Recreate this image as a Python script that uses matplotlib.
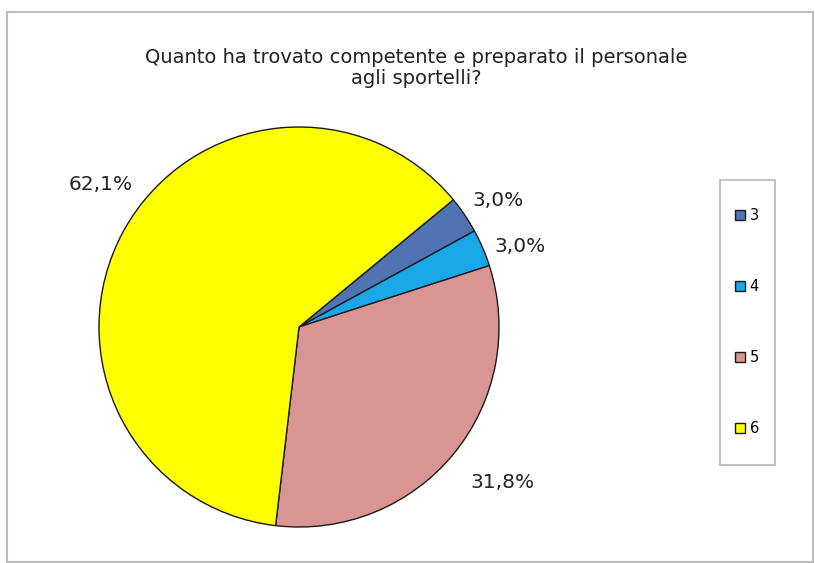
import matplotlib.pyplot as plt
from matplotlib.patches import Rectangle

# Valutazione della competenza del personale agli sportelli
categorie = ['3', '4', '5', '6']
percentuali = [3.0, 3.0, 31.8, 62.1]
colori = ['#4f73b3', '#1aa7e8', '#d99594', '#ffff00']

W, H = 815, 563
fig = plt.figure(figsize=(W / 100, H / 100), dpi=100)
ax = fig.add_axes([0, 0, 1, 1])

# coordinate in pixel, y dal basso
cx, cy, r = 299, H - 327, 200
wedges, _ = ax.pie(percentuali, colors=colori, startangle=39.5, counterclock=False,
                   center=(cx, cy), radius=r,
                   wedgeprops=dict(edgecolor='#1a1a1a', linewidth=1))
ax.set_xlim(0, W)
ax.set_ylim(0, H)
ax.set_aspect('equal')
ax.axis('off')

# etichette percentuali (posizioni in pixel)
pos_etichette = [(498, 201), (520, 246), (503, 483), (101, 185)]
for p, (x, y) in zip(percentuali, pos_etichette):
    ax.text(x, H - y, f'{p:.1f}%'.replace('.', ','), fontsize=14.5,
            color='#222222', ha='center', va='center')

fig.text(416 / W, 1 - 68 / H,
         'Quanto ha trovato competente e preparato il personale\nagli sportelli?',
         ha='center', va='center', fontsize=14, color='#222222', linespacing=1.1)

# legenda senza cornice, la cornice viene disegnata a parte
leg = ax.legend(wedges, categorie, loc='center', bbox_to_anchor=(747 / W, 1 - 322 / H),
                bbox_transform=fig.transFigure, fontsize=10.5, frameon=False,
                labelspacing=3.85, handlelength=0.7, handleheight=0.7,
                handletextpad=0.3, borderpad=0, borderaxespad=0)
fig.patches.append(Rectangle((720 / W, 1 - 465 / H), 55 / W, 285 / H,
                             transform=fig.transFigure, fill=False,
                             edgecolor='#b5b5b5', linewidth=1.2))

# bordo dell'area del grafico
fig.patches.append(Rectangle((7 / W, 1 - 562 / H), 806 / W, 550 / H,
                             transform=fig.transFigure, fill=False,
                             edgecolor='#bdbdbd', linewidth=1.5))

fig.savefig('out.png', dpi=100, facecolor='white')
